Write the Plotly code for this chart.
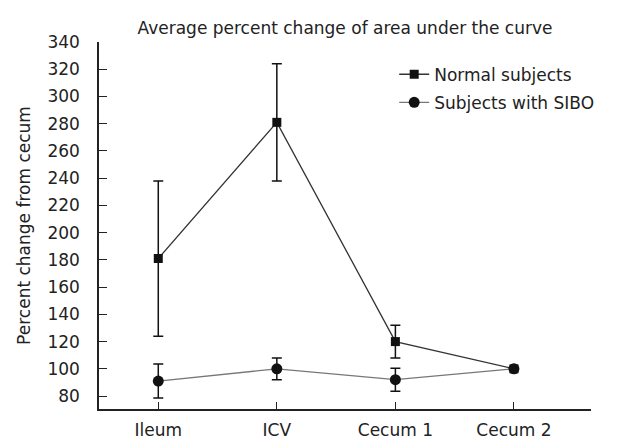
import plotly.graph_objs as go

sites = ['Ileum', 'ICV', 'Cecum 1', 'Cecum 2']

normal_mean = [181, 281, 120, 100]
normal_err = [57, 43, 12, 0]

sibo_mean = [91, 100, 92, 100]
sibo_err = [12.5, 8, 8.5, 0]

fnt = 'DejaVu Sans'

fig = go.Figure()
normal = go.Scatter(x=sites, y=normal_mean, name='Normal subjects', mode='lines+markers',
                    line=dict(color='#333333', width=1.3),
                    marker=dict(symbol='square', size=9, color='#111111'),
                    error_y=dict(type='data', array=normal_err, visible=True,
                                 color='#111111', thickness=1.5, width=5),
                    legendgroup='a')
sibo = go.Scatter(x=sites, y=sibo_mean, name='Subjects with SIBO', mode='lines+markers',
                  line=dict(color='#777777', width=1.3),
                  marker=dict(symbol='circle', size=11, color='#111111'),
                  error_y=dict(type='data', array=sibo_err, visible=True,
                               color='#111111', thickness=1.5, width=5),
                  legendgroup='b')
fig.add_trace(normal)
fig.add_trace(sibo)

# the page adds an 8px body margin, so the figure is a bit smaller than the window
fig.update_layout(
    width=622, height=437,
    margin=dict(l=91, r=39, t=34, b=36),
    paper_bgcolor='white', plot_bgcolor='white',
    font=dict(family=fnt, color='#222222', size=17),
    title=dict(text='Average percent change of area under the curve',
               xref='paper', x=0.5, xanchor='center', y=0.954, yanchor='middle',
               font=dict(size=17, family=fnt, color='#222222')),
    legend=dict(x=0.6, y=0.96, xanchor='left', yanchor='top',
                bgcolor='rgba(0,0,0,0)', font=dict(size=17, family=fnt),
                tracegroupgap=3),
    showlegend=True,
)
fig.update_xaxes(type='category', range=[-0.5, 3.65], showline=True, linecolor='#222222',
                 linewidth=1.5, ticks='inside', ticklen=7, tickcolor='#222222',
                 showgrid=False, zeroline=False, tickfont=dict(size=17),
                 automargin=False, ticklabelstandoff=5)
fig.update_yaxes(range=[70.5, 340], tick0=80, dtick=20, showline=True, linecolor='#222222',
                 linewidth=1.5, ticks='inside', ticklen=8, tickcolor='#222222',
                 showgrid=False, zeroline=False, tickfont=dict(size=17),
                 automargin=False, ticklabelstandoff=14,
                 title=dict(text='Percent change from cecum', font=dict(size=17), standoff=12))

fig.write_html('out.html')
